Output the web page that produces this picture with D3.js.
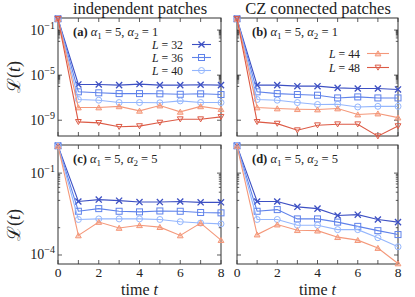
<!DOCTYPE html>
<html>
<head>
<meta charset="utf-8">
<script src="https://cdn.jsdelivr.net/npm/d3@7"></script>
<style>
  body { margin: 0; background: #fff; }
  svg { display: block; }
  text { font-family: "Liberation Serif", "DejaVu Serif", serif; fill: #222; }
</style>
</head>
<body>
<svg id="chart" width="415" height="297"></svg>
<script>
// time steps and system sizes
var times = [0, 1, 2, 3, 4, 5, 6, 7, 8];
var sizes = [32, 36, 40, 44, 48];

// (a) independent patches, alpha1=5, alpha2=1
var a32 = [1, 1.5e-6, 1.5e-6, 1.3e-6, 1.6e-6, 1.3e-6, 1.3e-6, 1.4e-6, 1.3e-6];
var a36 = [1, 3.3e-7, 2.7e-7, 2.3e-7, 2.3e-7, 2.2e-7, 2.0e-7, 2.2e-7, 1.9e-7];
var a40 = [1, 6.9e-8, 6.0e-8, 3.7e-8, 3.7e-8, 3.5e-8, 5.2e-8, 3.7e-8, 3.7e-8];
var a44 = [1, 1.35e-8, 1.35e-8, 1.7e-8, 6.8e-9, 2.0e-8, 5.5e-9, 1.7e-8, 9.5e-9];
var a48 = [1, 7.1e-10, 5.8e-10, 2.6e-10, 3.0e-10, 6.2e-10, 1.23e-9, 1.23e-9, 2.0e-9];

// (b) CZ connected patches, alpha1=5, alpha2=1
var b32 = [1, 1.3e-6, 1.3e-6, 1.05e-6, 1.05e-6, 7.4e-7, 6.5e-7, 6.5e-7, 5.4e-7];
var b36 = [1, 3.3e-7, 2.3e-7, 1.9e-7, 1.66e-7, 9.5e-8, 1.17e-7, 9.5e-8, 9.5e-8];
var b40 = [1, 6.9e-8, 6.0e-8, 3.7e-8, 2.5e-8, 2.6e-8, 1.5e-8, 1.7e-8, 1.7e-8];
var b44 = [1, 1.35e-8, 1.1e-8, 9.5e-9, 8.9e-9, 1.1e-8, 3.2e-9, 3.9e-9, 1.7e-9];
var b48 = [1, 7.1e-10, 5.0e-10, 1.3e-10, 3.6e-10, 4.4e-10, 4.4e-10, 3.8e-11, 3.0e-10];

// (c) independent patches, alpha1=5, alpha2=5
var c32 = [1, 9.1e-3, 1.07e-2, 9.8e-3, 8.7e-3, 8.7e-3, 9.1e-3, 8.5e-3, 8.5e-3];
var c36 = [1, 4.0e-3, 5.0e-3, 4.0e-3, 3.8e-3, 4.1e-3, 4.0e-3, 3.6e-3, 3.5e-3];
var c40 = [1, 2.0e-3, 2.1e-3, 2.1e-3, 2.1e-3, 2.0e-3, 1.66e-3, 1.48e-3, 1.38e-3];
var c44 = [1, 5.2e-4, 1.62e-3, 9.8e-4, 1.23e-3, 1.05e-3, 5.2e-4, 1.48e-3, 3.5e-4];

// (d) CZ connected patches, alpha1=5, alpha2=5
var d32 = [1, 9.1e-3, 9.1e-3, 5.8e-3, 5.0e-3, 2.8e-3, 3.0e-3, 2.0e-3, 1.6e-3];
var d36 = [1, 4.0e-3, 4.6e-3, 2.1e-3, 2.1e-3, 1.6e-3, 1.12e-3, 7.8e-4, 5.6e-4];
var d40 = [1, 2.0e-3, 2.0e-3, 1.23e-3, 1.23e-3, 8.5e-4, 8.5e-4, 4.3e-4, 2.0e-4];
var d44 = [1, 5.6e-4, 1.3e-3, 8.1e-4, 7.8e-4, 4.5e-4, 3.5e-4, 1.8e-4, 4.9e-5];

var xTickLabels = [0, 2, 4, 6, 8];

var colors = { 32: "#3d50c3", 36: "#5f82ea", 40: "#94b6fd", 44: "#f4987a", 48: "#dc5a45" };
var shapes = { 32: "x", 36: "square", 40: "circle", 44: "tri", 48: "trid" };

var svg = d3.select("#chart");

function marker(g, L, x, y) {
    var c = colors[L], s = shapes[L];
    if (s === "x") {
        g.append("path").attr("d", d3.symbol().type(d3.symbolTimes).size(26)())
            .attr("transform", "translate(" + x + "," + y + ")")
            .attr("fill", "none").attr("stroke", c).attr("stroke-width", 1.3);
    } else if (s === "square") {
        g.append("rect").attr("x", x - 3).attr("y", y - 3).attr("width", 6).attr("height", 6)
            .attr("fill", "none").attr("stroke", c).attr("stroke-width", 1);
    } else if (s === "circle") {
        g.append("circle").attr("cx", x).attr("cy", y).attr("r", 3)
            .attr("fill", "none").attr("stroke", c).attr("stroke-width", 1);
    } else {
        var rot = s === "trid" ? 180 : 0;
        g.append("path").attr("d", d3.symbol().type(d3.symbolTriangle2).size(24)())
            .attr("transform", "translate(" + x + "," + (s === "trid" ? y - 0.7 : y + 0.7) + ") rotate(" + rot + ")")
            .attr("fill", s === "tri" ? c : "none").attr("fill-opacity", 0.45)
            .attr("stroke", c).attr("stroke-width", 1);
    }
}

function drawPanel(p) {
    var x = d3.scaleLinear().domain([0, 8]).range([p.x0, p.x1]);
    var y = d3.scaleLog().domain(p.ydom).range([p.y1, p.y0]);
    var g = svg.append("g");

    // ticks (inward on all four sides)
    var tk = g.append("g").attr("stroke", "#333").attr("stroke-width", 0.8);
    times.forEach(function (t) {
        tk.append("line").attr("x1", x(t)).attr("x2", x(t)).attr("y1", p.y1).attr("y2", p.y1 - 4);
        tk.append("line").attr("x1", x(t)).attr("x2", x(t)).attr("y1", p.y0).attr("y2", p.y0 + 4);
    });
    p.major.forEach(function (v) {
        tk.append("line").attr("x1", p.x0).attr("x2", p.x0 + 4).attr("y1", y(v)).attr("y2", y(v));
        tk.append("line").attr("x1", p.x1).attr("x2", p.x1 - 4).attr("y1", y(v)).attr("y2", y(v));
    });
    p.minor.forEach(function (v) {
        tk.append("line").attr("x1", p.x0).attr("x2", p.x0 + 2.2).attr("y1", y(v)).attr("y2", y(v));
        tk.append("line").attr("x1", p.x1).attr("x2", p.x1 - 2.2).attr("y1", y(v)).attr("y2", y(v));
    });

    // frame
    g.append("rect").attr("x", p.x0).attr("y", p.y0).attr("width", p.x1 - p.x0).attr("height", p.y1 - p.y0)
        .attr("fill", "none").attr("stroke", "#333").attr("stroke-width", 1);

    // y tick labels
    if (p.ylabels) {
        p.ylabels.forEach(function (e) {
            var t = g.append("text").attr("x", p.x0 - 3).attr("y", y(Math.pow(10, e)) + 4.5)
                .attr("text-anchor", "end").style("font-size", "14px");
            t.append("tspan").text("10");
            t.append("tspan").attr("dy", -6).style("font-size", "10px").text("\u2212" + (-e));
        });
    }
    // x tick labels
    if (p.xlabels) {
        xTickLabels.forEach(function (v) {
            g.append("text").attr("x", x(v)).attr("y", p.y1 + 12.5).attr("text-anchor", "middle")
                .style("font-size", "13.5px").text(v);
        });
        g.append("text").attr("x", (p.x0 + p.x1) / 2).attr("y", p.y1 + 31).attr("text-anchor", "middle")
            .style("font-size", "16px").html("time <tspan font-style='italic'>t</tspan>");
    }

    // series
    var line = d3.line().x(function (d) { return x(d[0]); }).y(function (d) { return y(d[1]); });
    p.series.forEach(function (s) {
        var pts = times.map(function (t, i) { return [t, s.vals[i]]; });
        g.append("path").datum(pts).attr("d", line).attr("fill", "none")
            .attr("stroke", colors[s.L]).attr("stroke-width", 1.1);
        pts.forEach(function (d) { marker(g, s.L, x(d[0]), y(d[1])); });
    });

    // panel label
    var lab = g.append("text").attr("x", p.x0 + 15).attr("y", p.y0 + 18).style("font-size", "12.5px");
    lab.append("tspan").attr("font-weight", "bold").text("(" + p.tag + ")");
    lab.append("tspan").attr("font-style", "italic").text(" \u03b1");
    lab.append("tspan").attr("dy", 3).style("font-size", "9px").text("1");
    lab.append("tspan").attr("dy", -3).text(" = 5, ");
    lab.append("tspan").attr("font-style", "italic").text("\u03b1");
    lab.append("tspan").attr("dy", 3).style("font-size", "9px").text("2");
    lab.append("tspan").attr("dy", -3).text(" = " + p.a2);

    // legend
    if (p.legend) {
        p.legend.L.forEach(function (L, i) {
            var ly = p.legend.y + i * p.legend.dy;
            var t = g.append("text").attr("x", p.legend.tx).attr("y", ly + 4.2).attr("text-anchor", "end")
                .style("font-size", "11.8px");
            t.append("tspan").attr("font-style", "italic").text("L");
            t.append("tspan").text(" = " + L);
            g.append("line").attr("x1", p.legend.lx0).attr("x2", p.legend.lx1).attr("y1", ly).attr("y2", ly)
                .attr("stroke", colors[L]).attr("stroke-width", 1.1);
            marker(g, L, (p.legend.lx0 + p.legend.lx1) / 2, ly);
        });
    }
}

var minorTop = [], minorBot = [];
d3.range(1, 10).forEach(function (k) {
    minorTop.push(k * 1e-2); minorTop.push(k * 1e-6);
    minorBot.push(k * 1e-2);
});

var topDom = [Math.pow(10, -10.4), Math.pow(10, 0.07)];
var botDom = [Math.pow(10, -4.33), Math.pow(10, 0.03)];

drawPanel({ tag: "a", a2: 1, x0: 58, x1: 221, y0: 18, y1: 136, ydom: topDom,
    major: [1e-1, 1e-5, 1e-9], minor: minorTop, ylabels: [-1, -5, -9],
    series: [{ L: 32, vals: a32 }, { L: 36, vals: a36 }, { L: 40, vals: a40 }, { L: 44, vals: a44 }, { L: 48, vals: a48 }],
    legend: { L: [32, 36, 40], y: 44.5, dy: 13, tx: 183, lx0: 192, lx1: 211 } });

drawPanel({ tag: "b", a2: 1, x0: 237, x1: 398, y0: 18, y1: 136, ydom: topDom,
    major: [1e-1, 1e-5, 1e-9], minor: minorTop,
    series: [{ L: 32, vals: b32 }, { L: 36, vals: b36 }, { L: 40, vals: b40 }, { L: 44, vals: b44 }, { L: 48, vals: b48 }],
    legend: { L: [44, 48], y: 53.5, dy: 14, tx: 360, lx0: 367, lx1: 389 } });

drawPanel({ tag: "c", a2: 5, x0: 58, x1: 221, y0: 145, y1: 264, ydom: botDom,
    major: [1e-1, 1e-4], minor: minorBot.concat([1e-3]), ylabels: [-1, -4], xlabels: true,
    series: [{ L: 32, vals: c32 }, { L: 36, vals: c36 }, { L: 40, vals: c40 }, { L: 44, vals: c44 }] });

drawPanel({ tag: "d", a2: 5, x0: 237, x1: 398, y0: 145, y1: 264, ydom: botDom,
    major: [1e-1, 1e-4], minor: minorBot.concat([1e-3]), xlabels: true,
    series: [{ L: 32, vals: d32 }, { L: 36, vals: d36 }, { L: 40, vals: d40 }, { L: 44, vals: d44 }] });

// column titles
svg.append("text").attr("x", 140).attr("y", 14).attr("text-anchor", "middle").style("font-size", "16.5px")
    .text("independent patches");
svg.append("text").attr("x", 318).attr("y", 14).attr("text-anchor", "middle").style("font-size", "16.5px")
    .text("CZ connected patches");

// y axis labels
[77, 225].forEach(function (cy) {
    var t = svg.append("text").attr("transform", "translate(20," + cy + ") rotate(-90)")
        .attr("text-anchor", "middle").style("font-size", "18px");
    t.append("tspan").style("font-family", "'DejaVu Serif', serif").text("\u2112");
    t.append("tspan").text("(");
    t.append("tspan").attr("font-style", "italic").text("t");
    t.append("tspan").text(")");
});
</script>
</body>
</html>
